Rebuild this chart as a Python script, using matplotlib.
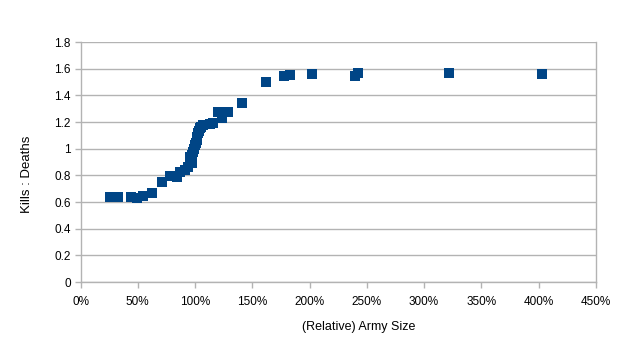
import matplotlib
matplotlib.use("Agg")
import matplotlib.pyplot as plt
from matplotlib.ticker import FuncFormatter

plt.rcParams['font.family'] = ['Liberation Sans', 'DejaVu Sans']

army_size = [0.257, 0.33, 0.438, 0.49, 0.548, 0.627, 0.708, 0.781, 0.839, 0.868,
             0.912, 0.941, 0.955, 0.97, 0.985, 1.0, 1.014, 1.028, 1.043, 1.072,
             1.13, 1.159, 1.203, 1.238, 1.29, 1.407,
             1.616, 1.78, 1.83, 2.02, 2.395, 2.424, 3.218, 4.027,
             0.96, 0.975, 0.99, 1.007, 1.02, 1.035, 1.055]
kills_deaths = [0.635, 0.635, 0.635, 0.628, 0.647, 0.67, 0.752, 0.797, 0.79, 0.828,
                0.84, 0.865, 0.94, 0.89, 0.977, 1.028, 1.065, 1.115, 1.153, 1.178,
                1.185, 1.195, 1.278, 1.228, 1.278, 1.34,
                1.503, 1.545, 1.55, 1.563, 1.548, 1.57, 1.568, 1.563,
                0.91, 0.95, 1.0, 1.045, 1.09, 1.135, 1.165]

x_ticks = [0, 0.5, 1.0, 1.5, 2.0, 2.5, 3.0, 3.5, 4.0, 4.5]
y_ticks = [0, 0.2, 0.4, 0.6, 0.8, 1.0, 1.2, 1.4, 1.6, 1.8]

fig = plt.figure(figsize=(6.4, 3.53), dpi=100)
ax = fig.add_axes([0.1258, 0.2011, 0.931 - 0.1258, 0.881 - 0.2011])

ax.scatter(army_size, kills_deaths, marker='s', s=58, color='#004586',
           linewidths=0, zorder=3)

ax.set_xlim(0, 4.5)
ax.set_ylim(0, 1.8)
ax.set_xticks(x_ticks)
ax.set_yticks(y_ticks)
ax.xaxis.set_major_formatter(FuncFormatter(lambda v, p: f"{v*100:.0f}%"))
ax.yaxis.set_major_formatter(FuncFormatter(lambda v, p: f"{v:g}"))

grid_c = '#b3b3b3'
ax.grid(True, axis='y', color=grid_c, linewidth=1.0)
ax.set_axisbelow(True)
for side in ['left', 'bottom', 'right']:
    ax.spines[side].set_color(grid_c)
    ax.spines[side].set_linewidth(1.0)
ax.spines['top'].set_visible(False)

ax.tick_params(axis='both', colors=grid_c, labelcolor='black', labelsize=8.5,
               length=4, width=1.0)
ax.tick_params(axis='x', pad=6)
ax.tick_params(axis='y', pad=3)

ax.set_xlabel('(Relative) Army Size', fontsize=9)
ax.set_ylabel('Kills : Deaths', fontsize=9.5)
ax.xaxis.set_label_coords(0.54, -0.1625)
ax.yaxis.set_label_coords(-0.092, 0.45)

fig.savefig('out.png', dpi=100)
